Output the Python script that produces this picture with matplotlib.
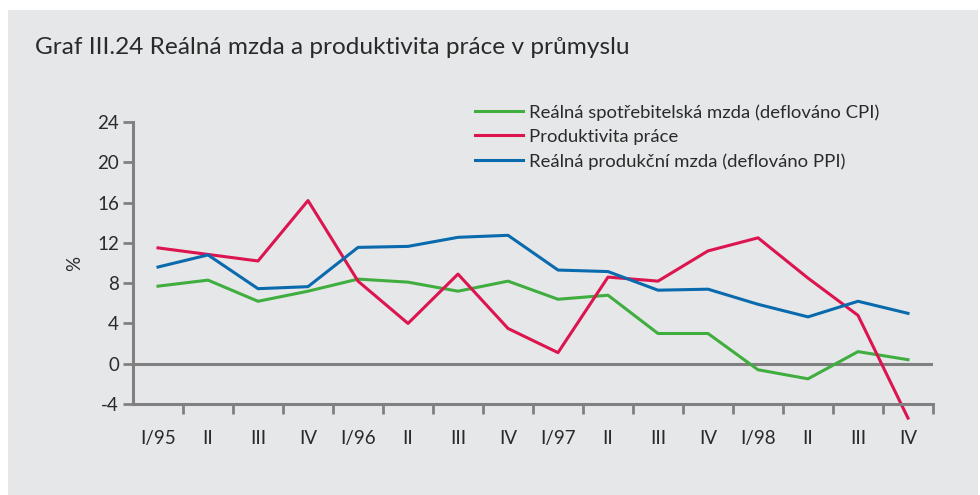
import matplotlib.pyplot as plt
from matplotlib.patches import Rectangle

# Quarters 1995-1998
kvartaly = ["I/95", "II", "III", "IV", "I/96", "II", "III", "IV",
            "I/97", "II", "III", "IV", "I/98", "II", "III", "IV"]

# Real consumer wage (deflated by CPI)
mzda_cpi = [7.7, 8.3, 6.2, 7.2, 8.4, 8.1, 7.2, 8.2,
            6.4, 6.8, 3.0, 3.0, -0.6, -1.5, 1.2, 0.4]
# Labour productivity
produktivita = [11.5, 10.85, 10.2, 16.2, 8.2, 4.0, 8.9, 3.5,
                1.1, 8.6, 8.2, 11.2, 12.5, 8.5, 4.8, -5.4]
# Real producer wage (deflated by PPI)
mzda_ppi = [9.6, 10.8, 7.45, 7.65, 11.55, 11.65, 12.55, 12.75,
            9.3, 9.15, 7.3, 7.4, 5.9, 4.65, 6.2, 5.0]

y_ticks = [-4, 0, 4, 8, 12, 16, 20, 24]

plt.rcParams['font.family'] = ['Lato', 'DejaVu Sans']

fig = plt.figure(figsize=(9.8, 4.95), dpi=100)
fig.patch.set_facecolor("white")
bg = "#e6e7e8"
fig.patches.append(Rectangle((8 / 980, 0), 970 / 980, 485 / 495,
                             transform=fig.transFigure, facecolor=bg,
                             edgecolor="none", zorder=-5))

ax = fig.add_axes([133 / 980, 91 / 495, 800 / 980, 282 / 495])
ax.set_facecolor(bg)
ax.set_zorder(2)

x = [i + 0.5 for i in range(len(kvartaly))]
ax.plot(x, mzda_cpi, color="#3fae3f", lw=2.2,
        label="Reálná spotřebitelská mzda (deflováno CPI)")
ax.plot(x, produktivita, color="#dc1450", lw=2.2, clip_on=False,
        label="Produktivita práce")
ax.plot(x, mzda_ppi, color="#0a6aae", lw=2.2,
        label="Reálná produkční mzda (deflováno PPI)")

ax.axhline(0, color="#808080", lw=2.2, zorder=1)

ax.set_xlim(0, len(kvartaly))
ax.set_ylim(-4, 24)
ax.set_yticks(y_ticks)
ax.set_yticklabels([str(v) for v in y_ticks])
ax.set_xticks(range(1, len(kvartaly) + 1))
ax.set_xticklabels([])
ax.set_xticks(x, minor=True)
ax.set_xticklabels(kvartaly, minor=True)

for s in ["top", "right"]:
    ax.spines[s].set_visible(False)
for s in ["left", "bottom"]:
    ax.spines[s].set_color("#808080")
    ax.spines[s].set_linewidth(2.2)

ax.tick_params(axis="y", length=7, width=2, color="#808080",
               labelsize=13.5, labelcolor="#2a2a2a", pad=3)
ax.tick_params(axis="x", which="major", length=7, width=2, color="#808080")
ax.tick_params(axis="x", which="minor", length=0, labelsize=13.5,
               labelcolor="#2a2a2a", pad=19)

ax.set_ylabel("%", fontsize=13.5, color="#2a2a2a", labelpad=10)

fig.text(35 / 980, 1 - 48 / 495, "Graf III.24 Reálná mzda a produktivita práce v průmyslu",
         fontsize=17.6, color="#2a2a2a", va="center", ha="left")

ax.legend(loc="upper left", bbox_to_anchor=(335 / 800, 1.09), frameon=False,
          fontsize=13.3, handlelength=2.6, handletextpad=0.3,
          labelspacing=0.45, borderaxespad=0, labelcolor="#2a2a2a")

fig.savefig("out.png", dpi=100, facecolor="white")
